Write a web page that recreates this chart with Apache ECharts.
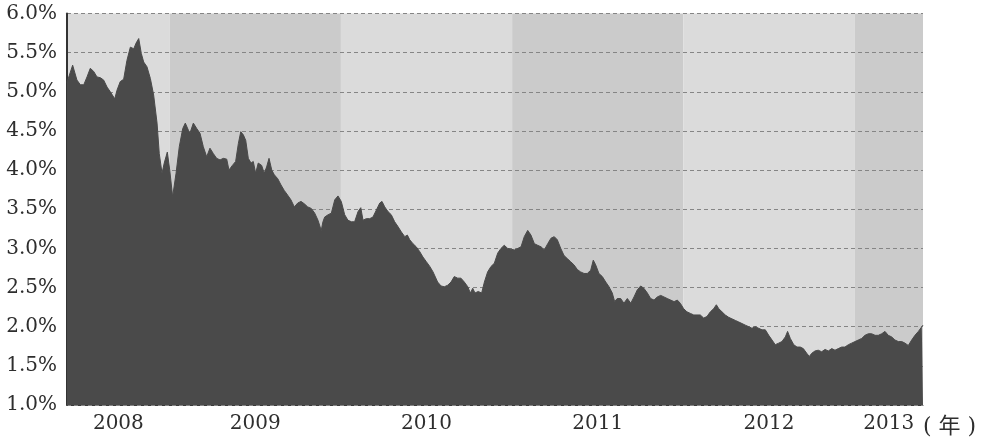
<!DOCTYPE html>
<html>
<head>
<meta charset="utf-8">
<script src="https://cdn.jsdelivr.net/npm/echarts@6/dist/echarts.min.js"></script>
<style>
  html, body { margin: 0; padding: 0; background: #fff; }
  #main { width: 984px; height: 444px; }
</style>
</head>
<body>
<div id="main"></div>
<script>
// x position in (fractional) years, roughly weekly readings
var xYear = [
  2008.400, 2008.433, 2008.458, 2008.478, 2008.498, 2008.517, 2008.536, 2008.556, 2008.575, 2008.595,
  2008.614, 2008.634, 2008.653, 2008.679, 2008.692, 2008.711, 2008.731, 2008.750, 2008.770, 2008.790,
  2008.803, 2008.819, 2008.834, 2008.848, 2008.867, 2008.887, 2008.906, 2008.926, 2008.939, 2008.955,
  2008.968, 2008.986,
  2009.000, 2009.017, 2009.037, 2009.056, 2009.076, 2009.091, 2009.109, 2009.118, 2009.138, 2009.158,
  2009.177, 2009.196, 2009.216, 2009.235, 2009.255, 2009.274, 2009.294, 2009.313, 2009.333, 2009.346,
  2009.366, 2009.385, 2009.401, 2009.415, 2009.430, 2009.444, 2009.459, 2009.475, 2009.488, 2009.502,
  2009.517, 2009.537, 2009.552, 2009.566, 2009.580, 2009.596, 2009.611, 2009.631, 2009.650, 2009.669,
  2009.689, 2009.708, 2009.728, 2009.748, 2009.767, 2009.786, 2009.806, 2009.827, 2009.847, 2009.866,
  2009.885, 2009.895, 2009.905, 2009.925, 2009.944, 2009.964, 2009.983,
  2010.002, 2010.022, 2010.041, 2010.061, 2010.080, 2010.100, 2010.116, 2010.129, 2010.148, 2010.168,
  2010.187, 2010.207, 2010.227, 2010.240, 2010.256, 2010.275, 2010.294, 2010.314, 2010.333, 2010.353,
  2010.373, 2010.388, 2010.402, 2010.421, 2010.440, 2010.460, 2010.479, 2010.499, 2010.519, 2010.538,
  2010.565, 2010.585, 2010.604, 2010.624, 2010.643, 2010.662, 2010.682, 2010.701, 2010.721, 2010.741,
  2010.756, 2010.770, 2010.783, 2010.802, 2010.822, 2010.838, 2010.857, 2010.877, 2010.896, 2010.916,
  2010.935, 2010.954, 2010.974, 2010.993,
  2011.013, 2011.033, 2011.052, 2011.071, 2011.091, 2011.110, 2011.130, 2011.149, 2011.169, 2011.188,
  2011.208, 2011.227, 2011.246, 2011.264, 2011.284, 2011.303, 2011.322, 2011.342, 2011.361, 2011.381,
  2011.400, 2011.420, 2011.439, 2011.459, 2011.474, 2011.488, 2011.507, 2011.527, 2011.547, 2011.566,
  2011.585, 2011.599, 2011.614, 2011.634, 2011.653, 2011.673, 2011.693, 2011.712, 2011.731, 2011.751,
  2011.770, 2011.790, 2011.809, 2011.829, 2011.848, 2011.868, 2011.887, 2011.906, 2011.926, 2011.946,
  2011.965, 2011.982,
  2012.002, 2012.021, 2012.041, 2012.061, 2012.080, 2012.099, 2012.119, 2012.138, 2012.158, 2012.177,
  2012.193, 2012.207, 2012.226, 2012.245, 2012.265, 2012.284, 2012.304, 2012.324, 2012.343, 2012.362,
  2012.382, 2012.401, 2012.420, 2012.440, 2012.460, 2012.479, 2012.499, 2012.518, 2012.537, 2012.557,
  2012.576, 2012.596, 2012.609, 2012.625, 2012.645, 2012.664, 2012.683, 2012.701, 2012.721, 2012.736,
  2012.750, 2012.769, 2012.788, 2012.808, 2012.828, 2012.847, 2012.867, 2012.886, 2012.905, 2012.925,
  2012.944, 2012.964, 2012.983,
  2013.003, 2013.022, 2013.042, 2013.061, 2013.081, 2013.100, 2013.120, 2013.139, 2013.159, 2013.178,
  2013.197, 2013.217, 2013.236, 2013.256, 2013.276, 2013.295, 2013.314, 2013.334, 2013.353, 2013.373,
  2013.393, 2013.400
];

// yield, percent
var yieldPct = [
  5.12, 5.34, 5.15, 5.09, 5.09, 5.19, 5.30, 5.26, 5.19, 5.18,
  5.15, 5.06, 5.00, 4.91, 5.02, 5.13, 5.16, 5.40, 5.57, 5.55,
  5.62, 5.68, 5.49, 5.38, 5.32, 5.17, 4.96, 4.60, 4.21, 3.96,
  4.09, 4.23,
  4.00, 3.66, 3.96, 4.30, 4.53, 4.60, 4.51, 4.47, 4.60, 4.53,
  4.47, 4.30, 4.17, 4.28, 4.21, 4.15, 4.13, 4.15, 4.14, 4.00,
  4.06, 4.11, 4.34, 4.49, 4.45, 4.38, 4.15, 4.09, 4.11, 3.96,
  4.09, 4.06, 3.96, 4.04, 4.15, 4.00, 3.94, 3.89, 3.81, 3.74,
  3.68, 3.62, 3.53, 3.58, 3.60, 3.57, 3.53, 3.51, 3.45, 3.36,
  3.23, 3.34, 3.40, 3.43, 3.45, 3.62, 3.67,
  3.60, 3.43, 3.36, 3.34, 3.34, 3.47, 3.52, 3.36, 3.38, 3.38,
  3.40, 3.49, 3.58, 3.60, 3.53, 3.47, 3.43, 3.34, 3.28, 3.21,
  3.15, 3.17, 3.11, 3.06, 3.02, 2.96, 2.89, 2.83, 2.77, 2.70,
  2.57, 2.52, 2.51, 2.53, 2.57, 2.64, 2.62, 2.62, 2.57, 2.51,
  2.43, 2.49, 2.43, 2.45, 2.43, 2.57, 2.70, 2.77, 2.81, 2.94,
  3.00, 3.04, 3.00, 2.99,
  2.98, 3.00, 3.02, 3.15, 3.23, 3.17, 3.06, 3.04, 3.02, 2.98,
  3.06, 3.13, 3.15, 3.11, 3.00, 2.91, 2.87, 2.83, 2.79, 2.73,
  2.70, 2.68, 2.68, 2.72, 2.85, 2.79, 2.68, 2.64, 2.57, 2.51,
  2.43, 2.32, 2.36, 2.36, 2.30, 2.36, 2.30, 2.38, 2.47, 2.52,
  2.49, 2.43, 2.36, 2.34, 2.38, 2.40, 2.38, 2.36, 2.34, 2.32,
  2.34, 2.30,
  2.23, 2.19, 2.17, 2.15, 2.15, 2.15, 2.11, 2.13, 2.19, 2.23,
  2.28, 2.23, 2.19, 2.15, 2.12, 2.10, 2.08, 2.06, 2.04, 2.02,
  2.00, 1.98, 2.00, 1.98, 1.96, 1.96, 1.89, 1.83, 1.77, 1.79,
  1.81, 1.87, 1.94, 1.85, 1.77, 1.74, 1.74, 1.72, 1.66, 1.62,
  1.66, 1.69, 1.70, 1.68, 1.71, 1.69, 1.72, 1.70, 1.72, 1.74,
  1.74, 1.77, 1.79,
  1.81, 1.83, 1.85, 1.89, 1.91, 1.91, 1.89, 1.89, 1.91, 1.94,
  1.89, 1.87, 1.83, 1.81, 1.81, 1.79, 1.76, 1.83, 1.89, 1.94,
  2.00, 2.02
];

// year bands (boundaries) and where each year label sits
var bandEdges = [2008.4, 2009, 2010, 2011, 2012, 2013, 2013.4];
var bandShades = ['#dbdbdb', '#cbcbcb', '#dbdbdb', '#cbcbcb', '#dbdbdb', '#cbcbcb'];
var yearLabels = ['2008', '2009', '2010', '2011', '2012', '2013'];
var yearLabelPos = [2008.7, 2009.5, 2010.5, 2011.5, 2012.5, 2013.2];

var seriesData = [];
for (var i = 0; i < xYear.length; i++) {
  seriesData.push([xYear[i], yieldPct[i]]);
}

var bands = [];
for (var b = 0; b < bandShades.length; b++) {
  bands.push([
    { xAxis: bandEdges[b], itemStyle: { color: bandShades[b] } },
    { xAxis: bandEdges[b + 1] }
  ]);
}

var myChart = echarts.init(document.getElementById('main'));
var option = {
  animation: false,
  backgroundColor: '#ffffff',
  grid: {
    left: 67,
    right: 61,
    top: 13.5,
    bottom: 39,
    outerBoundsMode: 'none'
  },
  xAxis: {
    type: 'value',
    min: 2008.4,
    max: 2013.4,
    // two empty lines push the unit down onto the year-label row
    name: '\n\n( 年 )',
    nameLocation: 'end',
    nameGap: 0,
    nameTextStyle: {
      fontFamily: 'DejaVu Serif, Noto Sans CJK SC',
      fontSize: 22,
      lineHeight: 22,
      color: '#2e2e2e',
      align: 'left',
      verticalAlign: 'middle'
    },
    axisLine: { show: true, lineStyle: { color: '#3a3a3a', width: 1 } },
    axisTick: { show: false },
    splitLine: { show: false },
    axisLabel: {
      customValues: yearLabelPos,
      margin: 9,
      fontFamily: 'DejaVu Serif',
      fontSize: 20,
      color: '#2e2e2e',
      formatter: function (v) {
        var k = yearLabelPos.indexOf(v);
        return k >= 0 ? yearLabels[k] : '';
      }
    }
  },
  yAxis: {
    type: 'value',
    min: 1,
    max: 6,
    interval: 0.5,
    z: 5,
    axisLine: { show: true, lineStyle: { color: '#333333', width: 2 } },
    axisTick: { show: false },
    axisLabel: {
      margin: 10,
      fontFamily: 'DejaVu Serif',
      fontSize: 20,
      color: '#2e2e2e',
      formatter: function (v) { return v.toFixed(1) + '%'; }
    },
    splitLine: {
      show: true,
      lineStyle: { color: '#858585', width: 1, type: [4, 3] }
    }
  },
  series: [
    {
      // background year bands
      type: 'line',
      z: 1,
      silent: true,
      data: [],
      markArea: {
        silent: true,
        data: bands
      }
    },
    {
      type: 'line',
      z: 6,
      data: seriesData,
      showSymbol: false,
      lineStyle: { color: '#4a4a4a', width: 1 },
      areaStyle: { color: '#4a4a4a', opacity: 1 }
    }
  ]
};
myChart.setOption(option);
</script>
</body>
</html>
